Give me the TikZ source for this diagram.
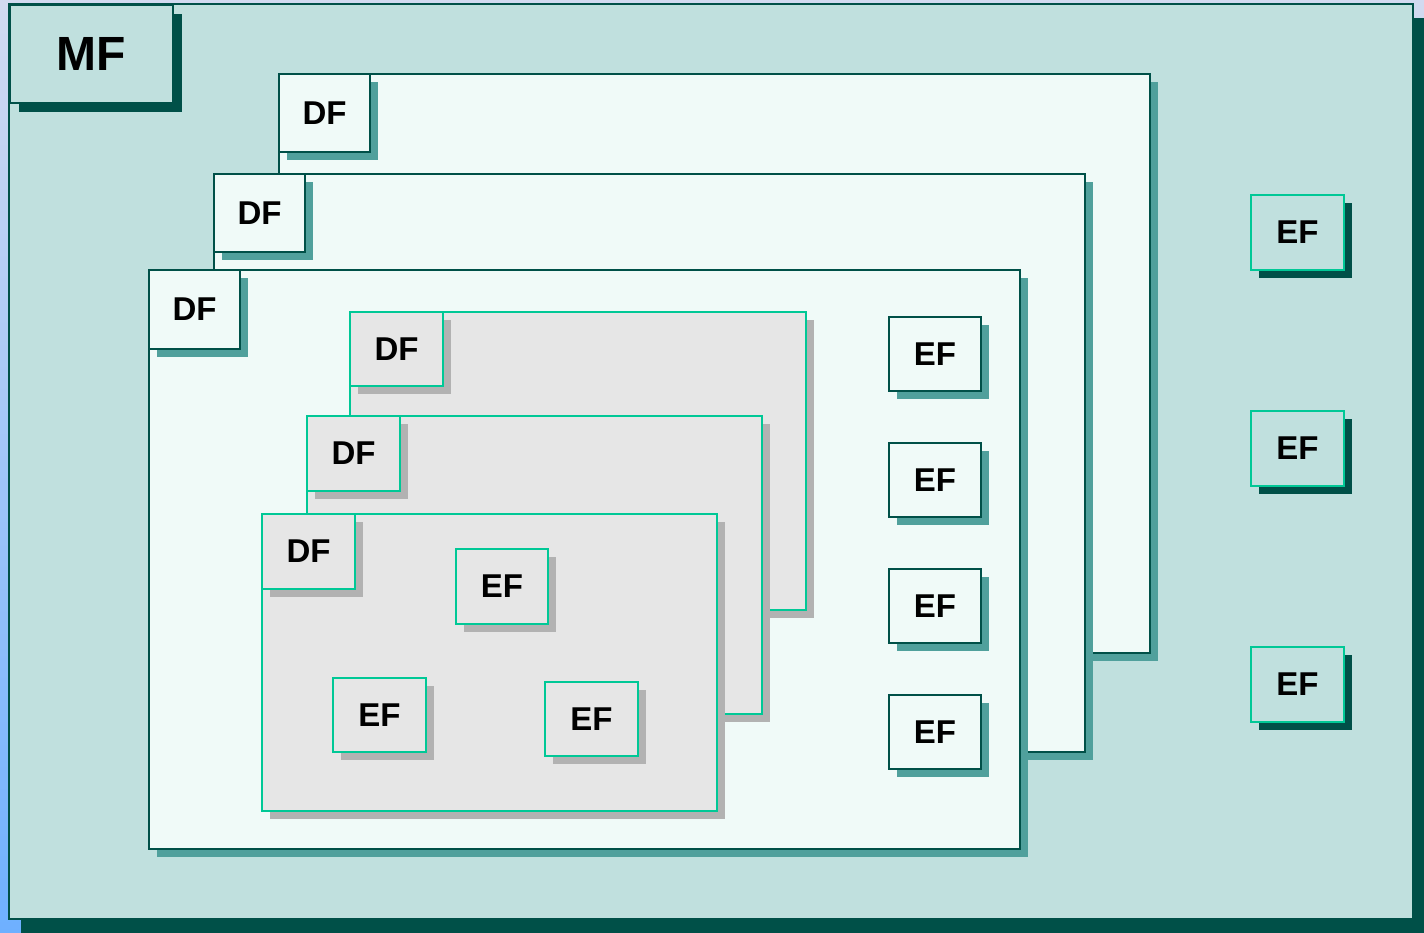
\documentclass[tikz,border=0pt]{standalone}
\usepackage{fontspec}
\setmainfont{Liberation Sans}
\usetikzlibrary{shadows}
\definecolor{bgtop}{RGB}{210,218,240}
\definecolor{bgbot}{RGB}{110,176,255}
\definecolor{mfill}{RGB}{192,224,222}
\definecolor{dk}{RGB}{0,80,72}
\definecolor{pale}{RGB}{240,250,248}
\definecolor{tl}{RGB}{80,160,156}
\definecolor{grn}{RGB}{0,200,150}
\definecolor{gfill}{RGB}{230,230,230}
\definecolor{gsh}{RGB}{178,178,178}
\tikzset{
  box/.style={anchor=north west, inner sep=0pt, outer sep=0pt, font=\fontsize{33}{36}\selectfont\bfseries, text=black},
  mfframe/.style={box, fill=mfill, draw=dk, line width=2.4pt, general shadow={fill=dk, shadow xshift=12pt, shadow yshift=-14pt}},
  mflabel/.style={box, fill=mfill, draw=dk, line width=2.4pt, font=\fontsize{48}{52}\selectfont\bfseries, general shadow={fill=dk, shadow xshift=9pt, shadow yshift=-9pt}},
  whitebox/.style={box, fill=pale, draw=dk, line width=2.4pt, general shadow={fill=tl, shadow xshift=8pt, shadow yshift=-8pt}},
  graybox/.style={box, fill=gfill, draw=grn, line width=2.8pt, general shadow={fill=gsh, shadow xshift=8pt, shadow yshift=-8pt}},
  outerbox/.style={box, fill=mfill, draw=grn, line width=2.8pt, general shadow={fill=dk, shadow xshift=8pt, shadow yshift=-8pt}},
}
\begin{document}
\begin{tikzpicture}[x=1pt,y=-1pt]
\shade[top color=bgtop, bottom color=bgbot] (0,0) rectangle (1424,933);
\useasboundingbox (0,0) rectangle (1424,933);
\begin{scope}
\clip (0,0) rectangle (1424,933);
\node[mfframe, minimum width=1404pt, minimum height=915pt] (mf) at (9,4) {};
\end{scope}
\node[mflabel, minimum width=163pt, minimum height=98pt] (mfl) at (10,5) {MF};
% big DF frames
\node[whitebox, minimum width=871pt, minimum height=579pt] (dfa) at (279,74) {};
\node[whitebox, minimum width=91pt, minimum height=78pt] (dfal) at (279,74) {DF};
\node[whitebox, minimum width=871pt, minimum height=578pt] (dfb) at (214,174) {};
\node[whitebox, minimum width=91pt, minimum height=78pt] (dfbl) at (214,174) {DF};
\node[whitebox, minimum width=871pt, minimum height=579pt] (dfc) at (149,270) {};
\node[whitebox, minimum width=91pt, minimum height=79pt] (dfcl) at (149,270) {DF};
% gray DF frames
\node[graybox, minimum width=456pt, minimum height=298pt] (g1) at (350,312) {};
\node[graybox, minimum width=93pt, minimum height=74pt] (g1l) at (350,312) {DF};
\node[graybox, minimum width=455pt, minimum height=298pt] (g2) at (307,416) {};
\node[graybox, minimum width=93pt, minimum height=75pt] (g2l) at (307,416) {DF};
\node[graybox, minimum width=455pt, minimum height=297pt] (g3) at (262,514) {};
\node[graybox, minimum width=93pt, minimum height=75pt] (g3l) at (262,514) {DF};
% EF in gray
\node[graybox, minimum width=92pt, minimum height=75pt] (ge1) at (456,549) {EF};
\node[graybox, minimum width=93pt, minimum height=74pt] (ge2) at (333,678) {EF};
\node[graybox, minimum width=93pt, minimum height=74pt] (ge3) at (545,682) {EF};
% EF in white
\node[whitebox, minimum width=92pt, minimum height=74pt] (we1) at (889,317) {EF};
\node[whitebox, minimum width=92pt, minimum height=74pt] (we2) at (889,443) {EF};
\node[whitebox, minimum width=92pt, minimum height=74pt] (we3) at (889,569) {EF};
\node[whitebox, minimum width=92pt, minimum height=74pt] (we4) at (889,695) {EF};
% EF outer
\node[outerbox, minimum width=93pt, minimum height=75pt] (oe1) at (1251,195) {EF};
\node[outerbox, minimum width=93pt, minimum height=75pt] (oe2) at (1251,411) {EF};
\node[outerbox, minimum width=93pt, minimum height=75pt] (oe3) at (1251,647) {EF};
\end{tikzpicture}
\end{document}
